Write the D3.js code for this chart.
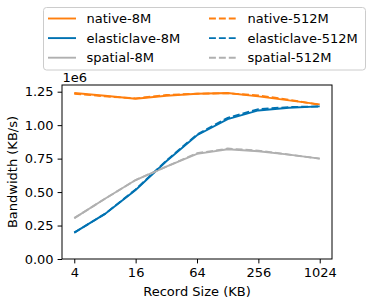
<!DOCTYPE html>
<html>
<head>
<meta charset="utf-8">
<script src="https://cdn.jsdelivr.net/npm/d3@7"></script>
<style>
  body { margin: 0; background: #fff; }
  svg { display: block; font-family: "DejaVu Sans", sans-serif; }
</style>
</head>
<body>
<svg id="chart" width="374" height="304"></svg>
<script>
// record sizes (KB)
const recordSizes = [4, 8, 16, 32, 64, 128, 256, 512, 1024];
const xTicks = [4, 16, 64, 256, 1024];
const yTicks = [0, 0.25, 0.5, 0.75, 1.0, 1.25];

// bandwidth in units of 1e6 KB/s
const native8M = [1.24, 1.22, 1.197, 1.22, 1.235, 1.24, 1.215, 1.185, 1.155];
const native512M = [1.235, 1.215, 1.20, 1.225, 1.235, 1.238, 1.222, 1.19, 1.152];
const elastic8M = [0.197, 0.337, 0.516, 0.73, 0.925, 1.045, 1.11, 1.13, 1.14];
const elastic512M = [0.197, 0.337, 0.52, 0.735, 0.93, 1.055, 1.12, 1.135, 1.14];
const spatial8M = [0.305, 0.45, 0.59, 0.69, 0.785, 0.82, 0.805, 0.78, 0.75];
const spatial512M = [0.305, 0.45, 0.59, 0.69, 0.79, 0.825, 0.81, 0.78, 0.75];

const seriesNames = ["native-8M", "elasticlave-8M", "spatial-8M", "native-512M", "elasticlave-512M", "spatial-512M"];
const seriesValues = [native8M, elastic8M, spatial8M, native512M, elastic512M, spatial512M];
const seriesColors = ["#ff7f0e", "#0072b2", "#b0b0b0", "#ff7f0e", "#0072b2", "#b0b0b0"];
const seriesDashed = [false, false, false, true, true, true];

const margin = { left: 62, right: 42, top: 85, bottom: 45 };
const width = 374, height = 304;
const fs = 13;

const svg = d3.select("#chart");

const x = d3.scaleLog().base(2)
  .domain([Math.pow(2, 1.6), Math.pow(2, 10.4)])
  .range([margin.left, width - margin.right]);

const y = d3.scaleLinear()
  .domain([0, 1.3])
  .range([height - margin.bottom, margin.top]);

// lines
const line = d3.line()
  .x((d, i) => x(recordSizes[i]))
  .y(d => y(d));

svg.append("g")
  .selectAll("path")
  .data(seriesValues)
  .join("path")
  .attr("d", line)
  .attr("fill", "none")
  .attr("stroke", (d, i) => seriesColors[i])
  .attr("stroke-width", 1.9)
  .attr("stroke-dasharray", (d, i) => seriesDashed[i] ? "6.9,3" : null);

// axes
const xAxis = svg.append("g")
  .attr("transform", `translate(0,${height - margin.bottom})`)
  .call(d3.axisBottom(x).tickValues(xTicks).tickFormat(d3.format("d")).tickSize(4.4).tickPadding(4));

const yAxis = svg.append("g")
  .attr("transform", `translate(${margin.left},0)`)
  .call(d3.axisLeft(y).tickValues(yTicks).tickFormat(d3.format(".2f")).tickSize(4.4).tickPadding(4));

[xAxis, yAxis].forEach(a => {
  a.select(".domain").remove();
  a.selectAll("text").attr("font-size", fs).attr("fill", "#000")
    .attr("font-family", "DejaVu Sans, sans-serif");
  a.selectAll("line").attr("stroke", "#000").attr("stroke-width", 1);
});

// frame
svg.append("rect")
  .attr("x", margin.left)
  .attr("y", margin.top)
  .attr("width", width - margin.left - margin.right)
  .attr("height", height - margin.top - margin.bottom)
  .attr("fill", "none")
  .attr("stroke", "#000")
  .attr("stroke-width", 1);

// offset text
svg.append("text")
  .attr("x", margin.left + 0.5)
  .attr("y", 81.5)
  .attr("font-size", fs)
  .text("1e6");

// axis labels
svg.append("text")
  .attr("x", (margin.left + width - margin.right) / 2)
  .attr("y", 296)
  .attr("text-anchor", "middle")
  .attr("font-size", fs)
  .text("Record Size (KB)");

svg.append("text")
  .attr("transform", `translate(17,${(margin.top + height - margin.bottom) / 2}) rotate(-90)`)
  .attr("text-anchor", "middle")
  .attr("font-size", fs)
  .text("Bandwidth (KB/s)");

// legend
const legend = svg.append("g");
legend.append("rect")
  .attr("x", 43.5)
  .attr("y", 7.5)
  .attr("width", 322)
  .attr("height", 62.5)
  .attr("rx", 3)
  .attr("fill", "#fff")
  .attr("fill-opacity", 0.8)
  .attr("stroke", "#cccccc");

const item = legend.selectAll("g.item")
  .data(seriesNames)
  .join("g")
  .attr("class", "item")
  .attr("transform", (d, i) => `translate(${i < 3 ? 48 : 209},${18.5 + (i % 3) * 19.6})`);

item.append("line")
  .attr("x1", 0).attr("x2", 28)
  .attr("stroke", (d, i) => seriesColors[i])
  .attr("stroke-width", 1.9)
  .attr("stroke-dasharray", (d, i) => seriesDashed[i] ? "6.9,3" : null);

item.append("text")
  .attr("x", 38.5)
  .attr("dy", "0.36em")
  .attr("font-size", fs)
  .text(d => d);
</script>
</body>
</html>
